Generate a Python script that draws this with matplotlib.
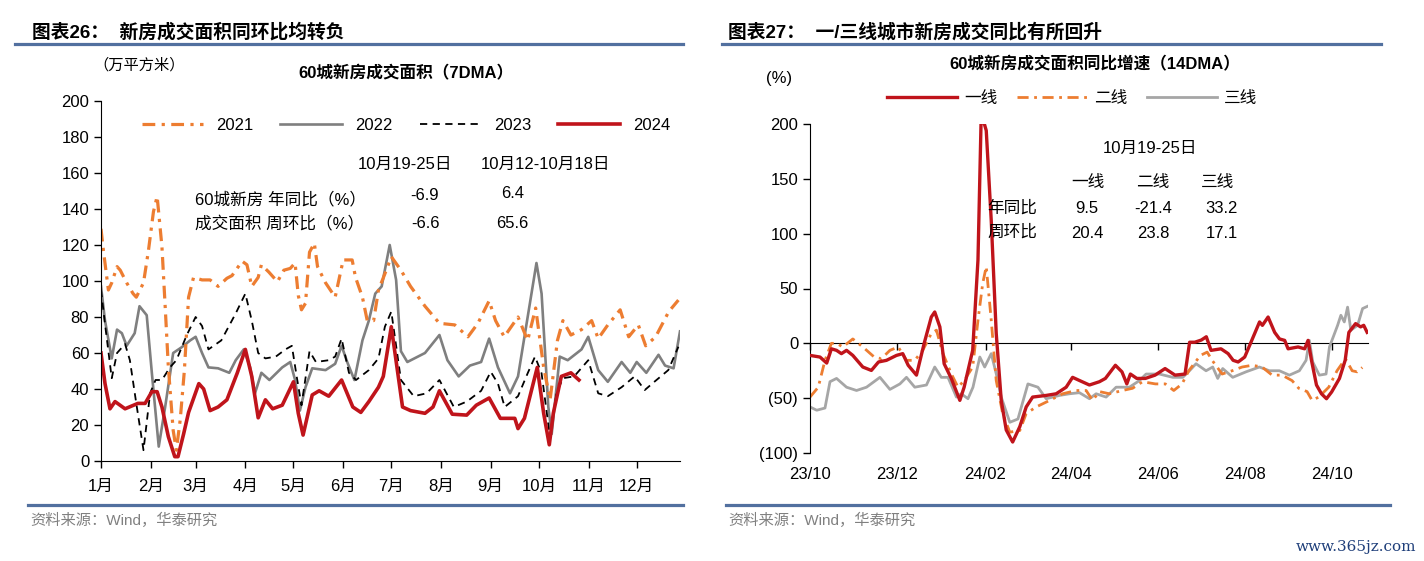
import matplotlib
matplotlib.use('Agg')
import matplotlib.pyplot as plt
from matplotlib.lines import Line2D

plt.rcParams['font.family'] = ['Liberation Sans', 'Noto Sans CJK SC']
plt.rcParams['axes.unicode_minus'] = False

# ---- left chart: 60 city new home transaction area (7DMA), day of year ----
month_days = [0, 31, 59, 90, 120, 151, 181, 212, 243, 273, 304, 334]
month_labels = ['1月', '2月', '3月', '4月', '5月', '6月', '7月', '8月', '9月', '10月', '11月', '12月']

d21 = [0, 1.5, 4.6, 6.7, 10, 12, 16, 20, 22, 26.5, 29.6, 32.7, 35, 38, 40, 42, 45, 47, 49.4, 52, 54.6,
       57.7, 63, 68, 73, 78.5, 81.7, 88, 91, 94, 98, 100, 104.6, 110, 114, 118, 121, 123, 125, 127.5,
       130, 133, 135, 140, 146, 151, 156.6, 158.7, 163, 166, 170, 173, 177, 181, 187, 193, 202, 211,
       220.6, 228.8, 235, 242, 246, 251.4, 260, 266, 271, 276, 280, 284.6, 288, 293, 299.6, 305.9, 310,
       316, 323.7, 329, 335, 339.6, 345.8, 354, 360]
v21 = [129, 117, 95, 99, 108, 106, 99, 93, 91, 99, 117, 138.5, 147, 119, 86, 52, 17, 6, 23, 50.5, 91,
       102, 100.6, 100.6, 97, 101.5, 103, 111, 109, 97, 102, 109, 105, 99.6, 106, 107, 110, 92, 84, 87.6,
       116, 121, 108, 99, 91, 111.7, 111.7, 102, 91, 78, 78, 95, 104, 113.5, 106, 97, 86, 76.5,
       75.6, 69, 76.5, 89, 78, 69, 80, 67, 85, 52, 34, 67, 78, 70, 73, 78, 68,
       75.6, 84, 69, 75.6, 64, 69, 83, 89.4]

d22 = [0, 2.5, 6.7, 10, 13, 16, 21, 24, 28.5, 31.7, 36, 40, 45, 50, 55.6, 59, 63, 67, 73, 80, 84, 89,
       93, 96, 100, 105, 113, 118, 121, 124, 127.5, 131.7, 140, 146, 150, 153.5, 158, 163, 167, 171,
       175, 180, 184, 187, 191, 202, 211, 216, 223, 230, 237, 242, 247.5, 255, 260, 271.5, 274.7,
       278.9, 281, 286, 291, 299.6, 303.8, 310, 316, 324.6, 330, 334, 340, 347.6, 351.7, 357, 361]
v22 = [97, 78, 57, 73, 71, 64, 71, 86, 81, 49, 8, 30, 60, 63, 67, 69, 60, 52, 51.5, 49, 56, 62,
       52, 37.6, 49, 45, 52, 55, 45, 28, 41, 51.5, 50.5, 54, 64, 55, 45, 67, 78, 93,
       97, 120, 100.6, 61, 55, 60, 70, 56, 47, 53, 55, 68, 52, 37.6, 47, 110, 93,
       30, 15, 58, 56, 62, 69, 50.5, 44, 55, 49, 55, 49, 59, 53, 51.5, 72]

d23 = [0, 2.5, 6.7, 10, 15, 18, 22, 26.5, 30.6, 34, 38, 43, 47, 53.5, 59, 63, 67, 75, 84, 90, 94, 98,
       102.5, 109, 115, 119, 122, 125, 130, 134, 142, 146, 150, 154.6, 159, 167, 173, 177, 181, 187,
       195, 203, 211, 220, 228, 237, 243, 247.5, 251.7, 260, 266, 270.6, 274.7, 279.9, 284, 288, 295,
       303.8, 310, 316, 324.6, 332.7, 339, 345, 353.7, 360]
v23 = [95, 76, 46, 60, 65, 56, 32, 6, 37.6, 45, 45, 52, 56, 70, 80, 75, 62, 67, 82, 93, 78, 60,
       57, 58, 62, 64, 47, 31, 61, 55, 56, 58, 68, 49, 45, 50.5, 57, 74.6, 83, 45,
       36, 37.6, 45, 30, 33, 39, 49.6, 43, 30, 36, 48.7, 58, 48.7, 13.5, 37.6, 46, 47,
       56, 37.6, 36, 41, 47, 39.4, 44, 50.5, 63.5]

d24 = [0, 2.5, 5.6, 8.75, 15, 23, 27.5, 31.7, 35, 38, 42, 46, 48, 51.5, 54.6, 61, 64, 68, 73, 78.5,
       85, 90, 94, 98, 102.5, 107, 113, 120, 123, 126, 131.7, 136, 142, 150, 157, 162, 167, 173, 176,
       181, 188, 193, 202, 207, 211, 219, 228, 234, 242, 249, 258, 260, 264, 272, 276, 279.5, 282,
       287, 293, 298]
v24 = [60, 43, 29, 33, 29, 32, 32, 38.5, 38.5, 30, 13.5, 2.4, 2.4, 15, 27, 43, 40, 28, 30, 34,
       49, 62, 47, 24, 34, 29, 31, 44, 26.5, 14.4, 36.7, 39, 36, 45, 30, 27, 33, 41, 47,
       74.6, 30, 28, 26.5, 30, 39, 26, 25.5, 31, 35, 23.7, 23.7, 18, 23.7, 52, 26.5, 9, 26.5,
       47, 49, 45]

# ---- right chart: yoy growth by city tier (14DMA), days since 2023-10-01 ----
r_tick_days = [0, 61, 123, 183, 244, 305, 366]
r_tick_labels = ['23/10', '23/12', '24/02', '24/04', '24/06', '24/08', '24/10']

t1_days = [0, 7, 11.7, 15, 18.6, 22, 25.6, 30, 37, 43, 48, 53.6, 60.6, 65, 68.8, 74.6, 80, 85, 87.4,
           91, 94, 99, 105, 108, 114, 117.7, 120, 123.5, 127, 130.5, 134, 137.5, 142, 147, 151.5, 156,
           165.5, 172.5, 179.5, 184, 189, 195.8, 202.8, 207, 214, 218.6, 222, 224.5, 229, 235, 241.8,
           248.8, 255.8, 262.8, 266, 269.6, 274.2, 277.7, 281, 288, 293, 296.5, 300, 304.6, 309, 315,
           317, 321, 325.6, 329, 332.6, 335, 342, 346.6, 349, 351.4, 354.9, 358.4, 361.9, 365.5, 371,
           375, 377.6, 382.3, 385.8, 388, 390.4]
t1_vals = [-11, -12.5, -18, -5, -6.4, -9.4, -6.4, -11, -21.6, -24.7, -17, -15.5, -11, -9.4, -20, -29, 0, 24, 28.6,
           15, -18.6, -32, -52, -40, -6.4, 76, 210, 194, 112, 9, -52, -79, -90, -76, -58, -49,
           -47.5, -46, -40, -31, -34, -38, -35, -32, -20, -26, -37, -28, -32, -32, -29,
           -23, -29, -28, 1, 1, 3, 6, -6.4, -5, -9.4, -15.5, -17, -12.5, 1, 19.5,
           16.4, 24, 10, 4, 2.7, -5, -3.3, -5, 2.7, -15.5, -38, -46, -50.5, -44.4, -32,
           -15.5, 10, 18, 15, 16.4, 10]

t2_days = [0, 5.8, 10.5, 15, 18.6, 23, 30, 37, 45, 50, 56, 61.8, 67.6, 73.4, 79, 85, 88.6, 93.2, 99,
           103.7, 108, 114, 117.7, 121, 123.5, 127, 130.5, 135, 140, 147, 151.5, 158.5, 168, 177, 186.5,
           193.5, 198, 202.8, 209.8, 219, 226, 233, 242, 249, 254.9, 260.7, 265.4, 273.6, 278.3, 281.8,
           288.8, 295.8, 302.8, 309.8, 316.8, 323.8, 330.8, 337.8, 342.5, 348.3, 351.8, 356.5, 363.5,
           369.3, 375.2, 379.9, 383.4, 387]
t2_vals = [-49, -40, -15.5, 0, 0, -3.3, 4, -3.3, -12.5, -14, -6.4, -3.3, -15.5, -15.5, -6.4, 9, 12, -9.4, -27.7,
           -40, -34, -21.6, 21, 54.5, 70, 21, -34, -64, -81, -79.5, -64, -58, -52, -46, -43,
           -43, -52, -44, -46, -43, -41, -35, -37, -37, -43, -37, -25, -11, -8, -15.5,
           -28, -25, -21.6, -20, -21.6, -29, -29, -34, -41, -44, -52, -49, -40,
           -25, -14, -25, -26, -22]

t3_days = [0, 4.7, 10.5, 14, 18.6, 25.6, 32.6, 39.6, 49, 56, 63, 67.6, 73.4, 81.6, 87.4, 92, 96.7, 102.6,
           106, 110.7, 114.2, 119, 122.4, 127, 130.5, 134, 140, 145.7, 152.7, 159.7, 165.5, 174.8, 181.8,
           188.8, 195.8, 200.5, 207.5, 214.5, 223.8, 230.8, 235.5, 244.8, 254.2, 261.2, 265.9, 270.5,
           277.5, 282.2, 285.7, 289.2, 296.2, 305.5, 314.9, 321.9, 328.9, 335.9, 342.9, 347.6, 349.9,
           352.3, 356.9, 361.6, 364, 369.7, 372, 374.4, 376.7, 379, 383.7, 387.2, 390.7]
t3_vals = [-58, -61, -59, -35, -32, -40, -43, -40, -31, -42, -37, -31, -40, -38, -21.6, -31, -31, -49,
           -46, -50.5, -40, -12.5, -21.6, -9.4, -27.7, -49, -72, -69, -37, -40, -50.5, -47.5, -46,
           -45, -50.5, -46, -49, -40, -40, -34, -28, -28, -31, -31, -25, -18.6,
           -25, -21.6, -32, -23, -31, -26, -21.6, -25, -25, -29, -25, -15.5, 2.7,
           -17, -29, -28, -3.3, 16.4, 25.6, 19.5, 33, 12, 16.4, 31.7, 33.8]

ORANGE = '#ED7D31'
RED = '#C0141B'
GRAY = '#7F7F7F'
LGRAY = '#A6A6A6'
BLUE = '#52709F'

fig = plt.figure(figsize=(14.24, 5.61), dpi=100)

def fx(px):
    return px / 1424.0

def fy(py):
    return 1 - py / 561.0

# header / footer decorations
for x0, x1 in [(15, 683), (722, 1381)]:
    fig.add_artist(Line2D([fx(x0), fx(x1)], [fy(44), fy(44)], color=BLUE, lw=2.3))
for x0, x1 in [(28, 683), (726, 1390)]:
    fig.add_artist(Line2D([fx(x0), fx(x1)], [fy(505), fy(505)], color=BLUE, lw=2.3))
fig.text(fx(32), fy(32), '图表26：  新房成交面积同环比均转负', fontsize=13.5, fontweight='bold', va='center')
fig.text(fx(728), fy(32), '图表27：  一/三线城市新房成交同比有所回升', fontsize=13.5, fontweight='bold', va='center')
fig.text(fx(30), fy(520), '资料来源：Wind，华泰研究', fontsize=11, color='#808080', va='center')
fig.text(fx(728), fy(520), '资料来源：Wind，华泰研究', fontsize=11, color='#808080', va='center')
fig.text(fx(1416), fy(547), 'www.365jz.com', fontsize=11, color='#1F3F7A', va='center', ha='right',
         family='DejaVu Serif')

# ---------------- left ----------------
ax = fig.add_axes([fx(101), fy(461), fx(680) - fx(101), fy(101) - fy(461)])
ax.plot(d22, v22, color=GRAY, lw=1.9, label='2022')
ax.plot(d23, v23, color='black', lw=1.3, ls=(0, (4, 3)), label='2023')
ax.plot(d21, v21, color=ORANGE, lw=2.3, ls=(0, (4, 2, 1, 2)), label='2021')
ax.plot(d24, v24, color=RED, lw=2.6, label='2024')
ax.set_xlim(0, 361)
ax.set_ylim(0, 200)
ax.set_yticks(range(0, 201, 20))
ax.set_xticks(month_days)
ax.set_xticklabels(month_labels)
ax.tick_params(axis='both', labelsize=12, direction='out', length=5, width=1)
ax.tick_params(axis='x', pad=8)
for s in ['top', 'right']:
    ax.spines[s].set_visible(False)
h, l = ax.get_legend_handles_labels()
order = [2, 0, 1, 3]
ax.legend([h[i] for i in order], [l[i] for i in order], loc='center', ncol=4, frameon=False,
          bbox_to_anchor=(0.527, 0.933), fontsize=12, handlelength=3.7, columnspacing=1.6)

fig.text(fx(139), fy(65), '（万平方米）', fontsize=11, ha='center', va='center')
fig.text(fx(406), fy(73), '60城新房成交面积（7DMA）', fontsize=12, fontweight='bold', ha='center', va='center')
fig.text(fx(405), fy(164), '10月19-25日', fontsize=12, ha='center', va='center')
fig.text(fx(545), fy(164), '10月12-10月18日', fontsize=12, ha='center', va='center')
fig.text(fx(195), fy(199), '60城新房 年同比（%）', fontsize=12, ha='left', va='center')
fig.text(fx(195), fy(224), '成交面积 周环比（%）', fontsize=12, ha='left', va='center')
fig.text(fx(425), fy(195), '-6.9', fontsize=12, ha='center', va='center')
fig.text(fx(513), fy(194), '6.4', fontsize=12, ha='center', va='center')
fig.text(fx(425), fy(223), '-6.6', fontsize=12, ha='center', va='center')
fig.text(fx(512), fy(223), '65.6', fontsize=12, ha='center', va='center')

# ---------------- right ----------------
ax2 = fig.add_axes([fx(810), fy(453), fx(1368) - fx(810), fy(124) - fy(453)])
ax2.plot(t1_days, t1_vals, color=RED, lw=2.4, label='一线', zorder=3)
ax2.plot(t2_days, t2_vals, color=ORANGE, lw=2.0, ls=(0, (4, 2, 1, 2)), label='二线', zorder=2)
ax2.plot(t3_days, t3_vals, color=LGRAY, lw=2.0, label='三线', zorder=1)
ax2.set_xlim(0, 391)
ax2.set_ylim(-100, 200)
ax2.set_yticks([-100, -50, 0, 50, 100, 150, 200])
ax2.set_yticklabels(['(100)', '(50)', '0', '50', '100', '150', '200'])
ax2.set_xticks(r_tick_days)
ax2.set_xticklabels(r_tick_labels)
ax2.spines['bottom'].set_position(('data', 0))
ax2.spines['bottom'].set_zorder(0)
for s in ['top', 'right']:
    ax2.spines[s].set_visible(False)
ax2.tick_params(axis='both', labelsize=12, direction='out', length=5, width=1)
ax2.tick_params(axis='x', pad=84)
ax2.legend(loc='center', ncol=3, frameon=False, bbox_to_anchor=(0.47, 1.079), fontsize=12,
           handlelength=4.2, columnspacing=1.2, handletextpad=0.4)

fig.text(fx(779), fy(78), '(%)', fontsize=12, ha='center', va='center')
fig.text(fx(1095), fy(64), '60城新房成交面积同比增速（14DMA）', fontsize=12, fontweight='bold', ha='center', va='center')
fig.text(fx(1150), fy(148), '10月19-25日', fontsize=12, ha='center', va='center')
for x, t in [(1088, '一线'), (1153, '二线'), (1218, '三线')]:
    fig.text(fx(x), fy(183), t, fontsize=12, ha='center', va='center')
fig.text(fx(1012), fy(208), '年同比', fontsize=12, ha='center', va='center')
fig.text(fx(1012), fy(232), '周环比', fontsize=12, ha='center', va='center')
for x, a, b in [(1087, '9.5', '20.4'), (1153, '-21.4', '23.8'), (1222, '33.2', '17.1')]:
    fig.text(fx(x), fy(208), a, fontsize=12, ha='center', va='center')
    fig.text(fx(x), fy(233), b, fontsize=12, ha='center', va='center')

fig.savefig('out.png', dpi=100)
